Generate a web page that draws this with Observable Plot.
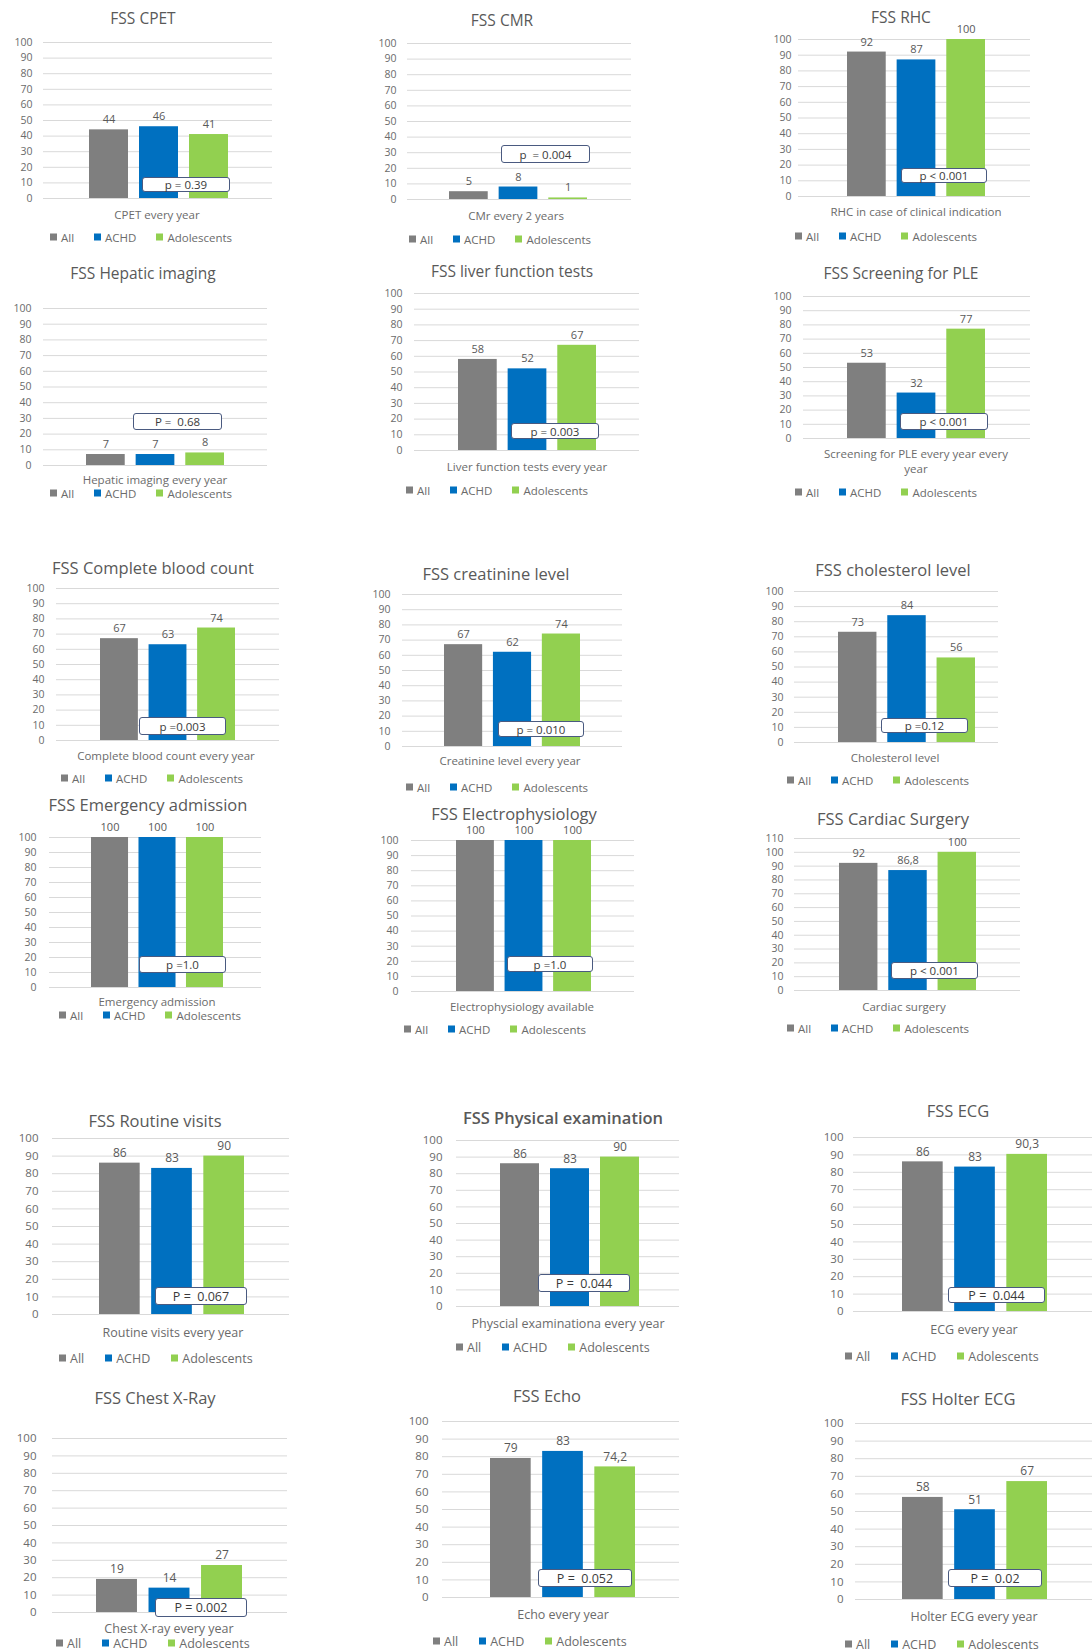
<!DOCTYPE html>
<html><head><meta charset="utf-8">
<script src="https://cdn.jsdelivr.net/npm/d3@7"></script>
<script src="https://cdn.jsdelivr.net/npm/@observablehq/plot@0.6"></script>
<style>
body{margin:0;background:#fff;}
#root{position:relative;width:1092px;height:1651px;overflow:hidden;font-family:"Open Sans",Lato,sans-serif;background:#fff;}
.title{position:absolute;white-space:nowrap;transform:translate(-50%,-50%);color:#595959;}
.xl{position:absolute;white-space:nowrap;transform:translate(-50%,-50%);color:#6b6b6b;text-align:center;line-height:1.3;}
.leg{position:absolute;white-space:nowrap;transform:translateY(-50%);color:#6b6b6b;display:flex;align-items:center;}
.leg span.sw{display:inline-block;width:7px;height:7px;margin-right:4px;}
.leg span.it{display:inline-flex;align-items:center;margin-right:20px;}
.pbox{position:absolute;box-sizing:border-box;border:1.5px solid #4a5a80;border-radius:3px;background:#fff;display:flex;align-items:center;justify-content:center;color:#3a3a3a;white-space:pre;}
svg{position:absolute;}
</style>
</head><body>
<div id="root"></div>
<script>
// ---- data ----
const groups = ["All", "ACHD", "Adolescents"];
const groupColors = ["#7f7f7f", "#0070c0", "#92d050"];
const titles = ["FSS CPET","FSS CMR","FSS RHC","FSS Hepatic imaging","FSS liver function tests","FSS Screening for PLE",
  "FSS Complete blood count","FSS creatinine level","FSS cholesterol level","FSS Emergency admission","FSS Electrophysiology","FSS Cardiac Surgery",
  "FSS Routine visits","FSS Physical examination","FSS ECG","FSS Chest X-Ray","FSS Echo","FSS Holter ECG"];
const xLabels = ["CPET every year","CMr every 2 years","RHC in case of clinical indication","Hepatic imaging  every year","Liver function tests  every year","Screening for PLE every year  every\nyear",
  "Complete blood count every year","Creatinine level every year","Cholesterol level","Emergency admission","Electrophysiology available","Cardiac surgery",
  "Routine visits every year","Physcial examinationa every year","ECG every year","Chest X-ray every year","Echo  every year","Holter ECG every year"];
const allValues  = [44, 5, 92, 7, 58, 53, 67, 67, 73, 100, 100, 92, 86, 86, 86, 19, 79, 58];
const achdValues = [46, 8, 87, 7, 52, 32, 63, 62, 84, 100, 100, 86.8, 83, 83, 83, 14, 83, 51];
const adolValues = [41, 1, 100, 8, 67, 77, 74, 74, 56, 100, 100, 100, 90, 90, 90.3, 27, 74.2, 67];
const pLabels = ["p = 0.39","p  = 0.004","p < 0.001","P =  0.68","p = 0.003","p < 0.001",
  "p =0.003","p = 0.010","p =0.12","p =1.0","p =1.0","p < 0.001",
  "P =  0.067","P =  0.044","P =  0.044","P = 0.002","P =  0.052","P =  0.02"];
const yMaxes = [100,100,100,100,100,100,100,100,100,100,100,110,100,100,100,100,100,100];

// ---- layout (pixel positions of each panel on the page) ----
const layout = [
  {tx:143,ty:18, lr:32, gx0:43, gx1:272, yt:42, y0:198, bx0:89, bx1:228, pb:[142,177,230,192], xl:[157,215], lg:[50,237]},
  {tx:502,ty:20, lr:396,gx0:407,gx1:631, yt:43, y0:199, bx0:449,bx1:587, pb:[501,145,590,163], xl:[516,216], lg:[409,239]},
  {tx:901,ty:17, lr:791,gx0:798,gx1:1030,yt:39, y0:196, bx0:847,bx1:985, pb:[901,168,987,183], xl:[916,212], lg:[795,236]},
  {tx:143,ty:273,lr:31, gx0:43, gx1:267, yt:308,y0:465, bx0:86, bx1:224, pb:[133,413,222,430], xl:[155,480], lg:[50,493]},
  {tx:512,ty:271,lr:402,gx0:414,gx1:639, yt:293,y0:450, bx0:458,bx1:596, pb:[511,423,599,439], xl:[527,467], lg:[406,490]},
  {tx:901,ty:273,lr:791,gx0:803,gx1:1030,yt:296,y0:438, bx0:847,bx1:985, pb:[900,413,988,430], xl:[916,462], lg:[795,492]},
  {tx:153,ty:567,lr:44, gx0:56, gx1:279, yt:588,y0:740, bx0:100,bx1:235, pb:[139,717,226,735], xl:[166,756], lg:[61,778]},
  {tx:496,ty:573,lr:390,gx0:402,gx1:622, yt:594,y0:746, bx0:444,bx1:580, pb:[498,721,584,737], xl:[510,761], lg:[406,787]},
  {tx:893,ty:569,lr:783,gx0:794,gx1:998, yt:591,y0:742, bx0:838,bx1:975, pb:[881,718,968,733], xl:[895,758], lg:[787,780]},
  {tx:148,ty:804,lr:36, gx0:49, gx1:261, yt:837,y0:987, bx0:91, bx1:223, pb:[139,956,226,973], xl:[157,1002],lg:[59,1015]},
  {tx:514,ty:813,lr:398,gx0:411,gx1:634, yt:840,y0:991, bx0:456,bx1:591, pb:[507,956,593,972], xl:[522,1007],lg:[404,1029]},
  {tx:893,ty:818,lr:783,gx0:794,gx1:1020,yt:838,y0:990, bx0:839,bx1:976, pb:[891,962,978,979], xl:[904,1007],lg:[787,1028]},
  {tx:155,ty:1120,lr:38,gx0:52, gx1:289, yt:1138,y0:1314,bx0:99, bx1:244, pb:[155,1287,247,1305],xl:[173,1333],lg:[59,1358]},
  {tx:563,ty:1117,lr:442,gx0:456,gx1:679,yt:1140,y0:1306,bx0:500,bx1:639, pb:[538,1274,630,1292],xl:[568,1324],lg:[456,1347], bold:true},
  {tx:958,ty:1110,lr:843,gx0:853,gx1:1092,yt:1137,y0:1311,bx0:902,bx1:1047,pb:[948,1287,1045,1303],xl:[974,1330],lg:[845,1356]},
  {tx:155,ty:1397,lr:36,gx0:52, gx1:287, yt:1438,y0:1612,bx0:96, bx1:242, pb:[155,1598,247,1617],xl:[169,1629],lg:[56,1643]},
  {tx:547,ty:1395,lr:428,gx0:442,gx1:679,yt:1421,y0:1597,bx0:490,bx1:635, pb:[538,1569,632,1587],xl:[563,1615],lg:[433,1641]},
  {tx:958,ty:1398,lr:843,gx0:855,gx1:1092,yt:1423,y0:1599,bx0:902,bx1:1047,pb:[948,1569,1042,1587],xl:[974,1617],lg:[845,1644]}
];

const root = document.getElementById("root");
const fmt = v => String(v).replace(".", ",");

function add(cls, text, css) {
  const d = document.createElement("div");
  d.className = cls;
  d.textContent = text;
  Object.assign(d.style, css);
  root.appendChild(d);
  return d;
}

titles.forEach((title, i) => {
  const L = layout[i];
  const big = i >= 12;
  const mid = i >= 6 && i < 12;
  const fs = big ? 12.5 : 11.5;
  const tfs = big ? 11.5 : 10.5;
  const rows = groups.map((g, k) => ({group: g, value: [allValues, achdValues, adolValues][k][i]}));
  const yMax = yMaxes[i];
  const ticks = d3.range(0, yMax + 1, 10);
  const svgLeft = L.lr - 30;
  const svgTop = L.yt - 30;
  const width = L.gx1 - svgLeft;
  const height = L.y0 - svgTop + 4;

  const chart = Plot.plot({
    width, height,
    marginLeft: L.gx0 - svgLeft, marginRight: 0, marginTop: L.yt - svgTop, marginBottom: 4,
    style: {background: "transparent", fontFamily: "'Open Sans', Lato, sans-serif", fontSize: tfs + "px", color: "#6b6b6b", overflow: "visible"},
    x: {domain: groups, range: [L.bx0 - svgLeft, L.bx1 - svgLeft], paddingInner: 0.22, paddingOuter: 0, round: false, axis: null},
    y: {domain: [0, yMax], axis: null},
    color: {domain: groups, range: groupColors},
    marks: [
      Plot.gridY(ticks, {stroke: "#d9d9d9", strokeOpacity: 1, strokeWidth: 1}),
      Plot.axisY(ticks, {tickSize: 0, tickPadding: L.gx0 - L.lr, label: null, fill: "#6b6b6b", fontSize: tfs}),
      Plot.barY(rows, {x: "group", y: "value", fill: "group"}),
      Plot.text(rows, {x: "group", y: "value", text: d => fmt(d.value), dy: -10, fill: "#595959", fontSize: tfs + 0.5})
    ]
  });
  chart.style.left = svgLeft + "px";
  chart.style.top = svgTop + "px";
  root.appendChild(chart);

  add("title", title, {left: L.tx + "px", top: L.ty + "px", fontSize: (big ? 16.5 : mid ? 16.5 : 15.5) + "px", fontWeight: L.bold ? "600" : "400"});

  const xl = add("xl", "", {left: L.xl[0] + "px", top: L.xl[1] + "px", fontSize: fs + "px"});
  xl.innerHTML = xLabels[i].replace("\n", "<br>");

  const lg = add("leg", "", {left: L.lg[0] + "px", top: L.lg[1] + "px", fontSize: fs + "px"});
  groups.forEach((g, k) => {
    const it = document.createElement("span");
    it.className = "it";
    if (big) it.style.marginRight = "21px";
    const sw = document.createElement("span");
    sw.className = "sw";
    sw.style.background = groupColors[k];
    it.appendChild(sw);
    it.appendChild(document.createTextNode(g));
    lg.appendChild(it);
  });

  const [x0, y0, x1, y1] = L.pb;
  add("pbox", pLabels[i], {left: x0 + "px", top: y0 + "px", width: (x1 - x0) + "px", height: (y1 - y0) + "px", fontSize: fs + "px"});
});
</script>
</body></html>
